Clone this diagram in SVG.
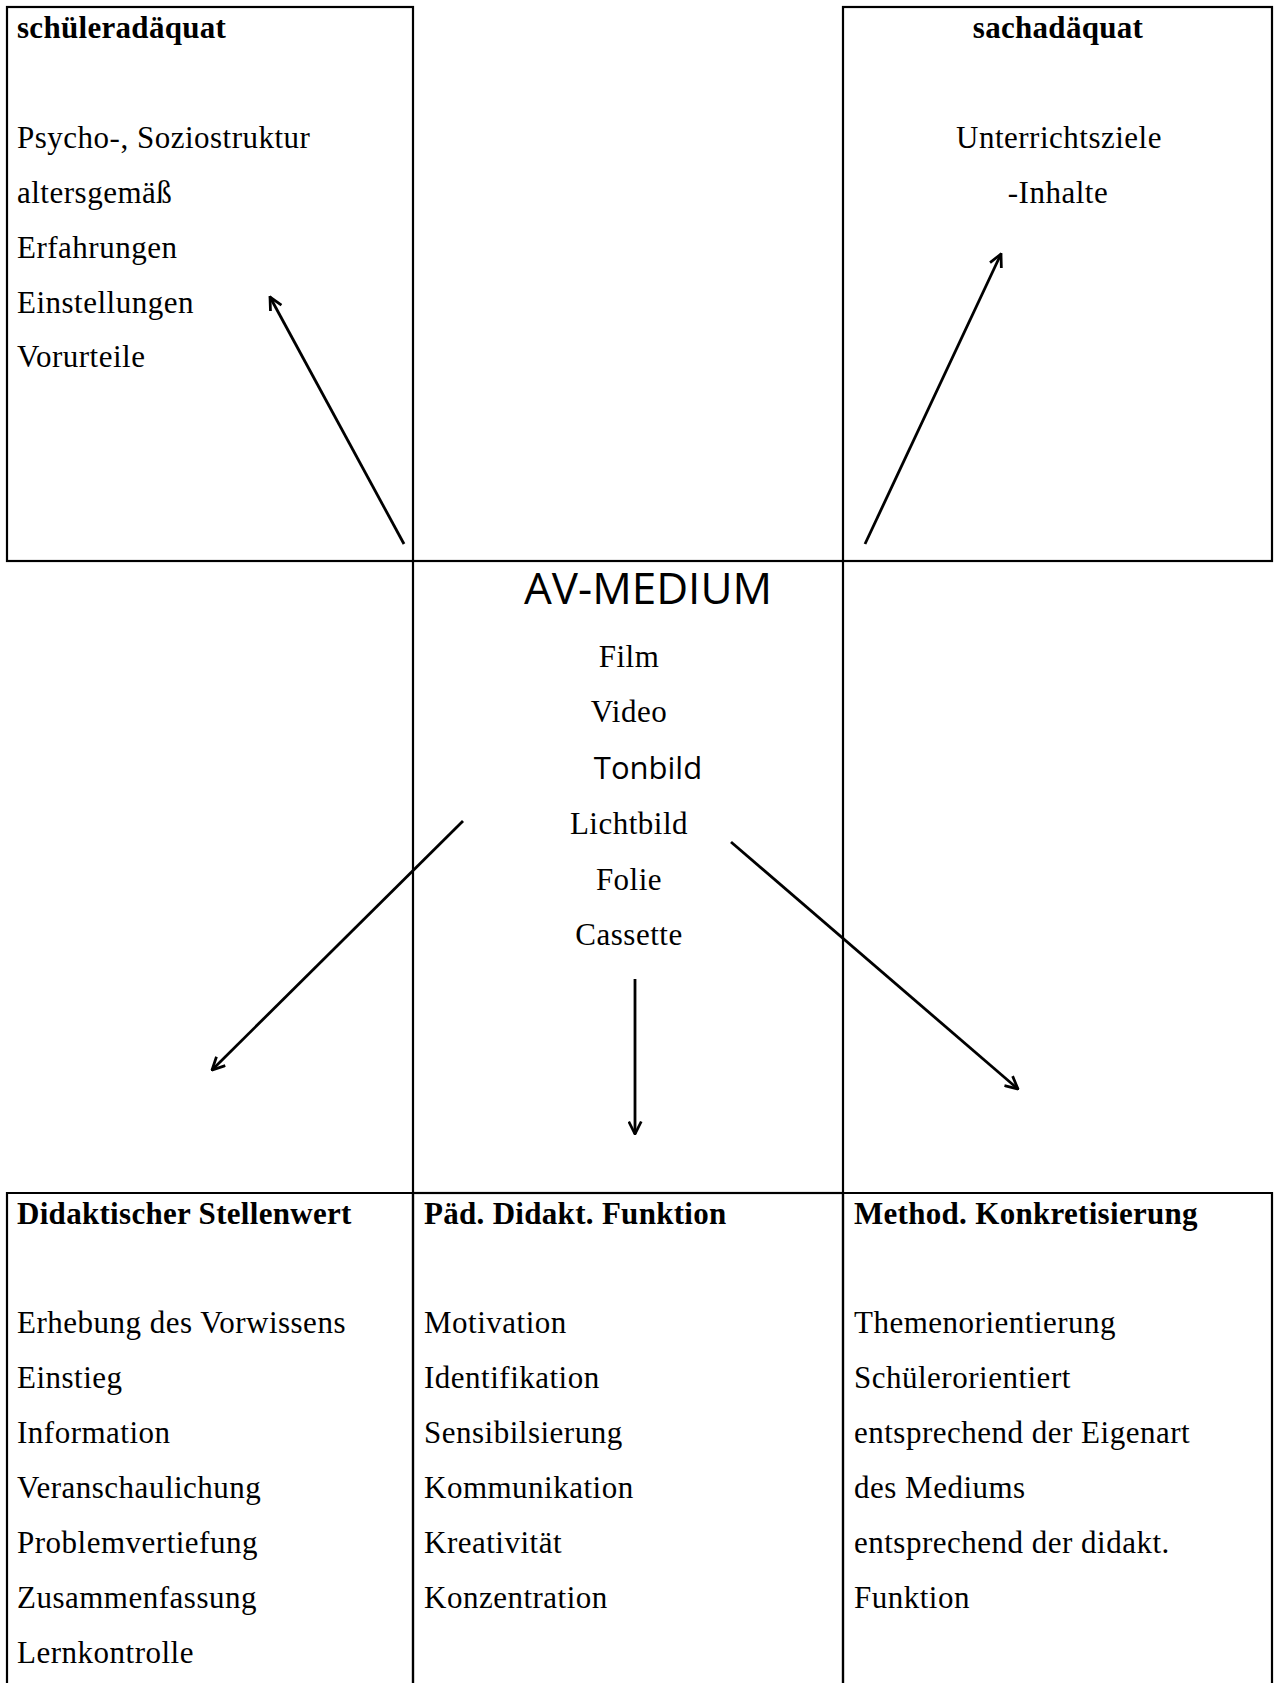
<svg xmlns="http://www.w3.org/2000/svg" width="1274" height="1683" viewBox="0 0 1274 1683">
<style>
  .box { fill: none; stroke: #000; stroke-width: 2.2; }
  .t { font-family: "Liberation Serif", "Times New Roman", serif; font-size: 31px; letter-spacing: 0.5px; fill: #000; }
  .h { font-family: "Liberation Serif", "Times New Roman", serif; font-size: 31px; font-weight: bold; letter-spacing: 0.3px; fill: #000; }
  .s { font-family: "Open Sans", "Noto Sans", sans-serif; fill: #000; }
  .c { text-anchor: middle; }
  .arr { fill: none; stroke: #000; stroke-width: 2.8; marker-end: url(#ah); }
</style>
<defs>
  <marker id="ah" viewBox="0 0 12 12" refX="11" refY="6" markerWidth="15" markerHeight="15" markerUnits="userSpaceOnUse" orient="auto">
    <path d="M1,1 L11,6 L1,11" fill="none" stroke="#000" stroke-width="2.2"/>
  </marker>
</defs>
<rect width="1274" height="1683" fill="#fff"/>

<g id="schueleradaequat">
  <rect class="box" x="7" y="7" width="406" height="554"/>
  <text class="h" x="17" y="38">schüleradäquat</text>
  <text class="t" x="17" y="148">Psycho-, Soziostruktur</text>
  <text class="t" x="17" y="203">altersgemäß</text>
  <text class="t" x="17" y="258">Erfahrungen</text>
  <text class="t" x="17" y="313">Einstellungen</text>
  <text class="t" x="17" y="367">Vorurteile</text>
</g>

<g id="sachadaequat">
  <rect class="box" x="843" y="7" width="429" height="554"/>
  <text class="h c" x="1058" y="38">sachadäquat</text>
  <text class="t c" x="1059" y="148">Unterrichtsziele</text>
  <text class="t c" x="1058" y="203">-Inhalte</text>
</g>

<g id="av-medium">
  <rect class="box" x="413" y="561" width="430" height="632"/>
  <text class="s c" x="648" y="604" font-size="44">AV-MEDIUM</text>
  <text class="t c" x="629" y="667">Film</text>
  <text class="t c" x="629" y="722">Video</text>
  <text class="s c" x="648" y="779" font-size="31">Tonbild</text>
  <text class="t c" x="629" y="834">Lichtbild</text>
  <text class="t c" x="629" y="890">Folie</text>
  <text class="t c" x="629" y="945">Cassette</text>
</g>

<g id="didaktischer-stellenwert">
  <path class="box" d="M7,1683 V1193 H413 V1683"/>
  <text class="h" x="17" y="1224">Didaktischer Stellenwert</text>
  <text class="t" x="17" y="1333">Erhebung des Vorwissens</text>
  <text class="t" x="17" y="1388">Einstieg</text>
  <text class="t" x="17" y="1443">Information</text>
  <text class="t" x="17" y="1498">Veranschaulichung</text>
  <text class="t" x="17" y="1553">Problemvertiefung</text>
  <text class="t" x="17" y="1608">Zusammenfassung</text>
  <text class="t" x="17" y="1663">Lernkontrolle</text>
</g>

<g id="paed-didakt-funktion">
  <path class="box" d="M413,1683 V1193 H843 V1683"/>
  <text class="h" x="424" y="1224">Päd. Didakt. Funktion</text>
  <text class="t" x="424" y="1333">Motivation</text>
  <text class="t" x="424" y="1388">Identifikation</text>
  <text class="t" x="424" y="1443">Sensibilsierung</text>
  <text class="t" x="424" y="1498">Kommunikation</text>
  <text class="t" x="424" y="1553">Kreativität</text>
  <text class="t" x="424" y="1608">Konzentration</text>
</g>

<g id="method-konkretisierung">
  <path class="box" d="M843,1683 V1193 H1272 V1683"/>
  <text class="h" x="854" y="1224">Method. Konkretisierung</text>
  <text class="t" x="854" y="1333">Themenorientierung</text>
  <text class="t" x="854" y="1388">Schülerorientiert</text>
  <text class="t" x="854" y="1443">entsprechend der Eigenart</text>
  <text class="t" x="854" y="1498">des Mediums</text>
  <text class="t" x="854" y="1553">entsprechend der didakt.</text>
  <text class="t" x="854" y="1608">Funktion</text>
</g>

<g id="connectors">
  <line class="arr" x1="404" y1="544" x2="270" y2="297"/>
  <line class="arr" x1="865" y1="544" x2="1001" y2="254"/>
  <line class="arr" x1="463" y1="821" x2="212" y2="1070"/>
  <line class="arr" x1="635" y1="979" x2="635" y2="1134"/>
  <line class="arr" x1="731" y1="842" x2="1018" y2="1089"/>
</g>
</svg>
